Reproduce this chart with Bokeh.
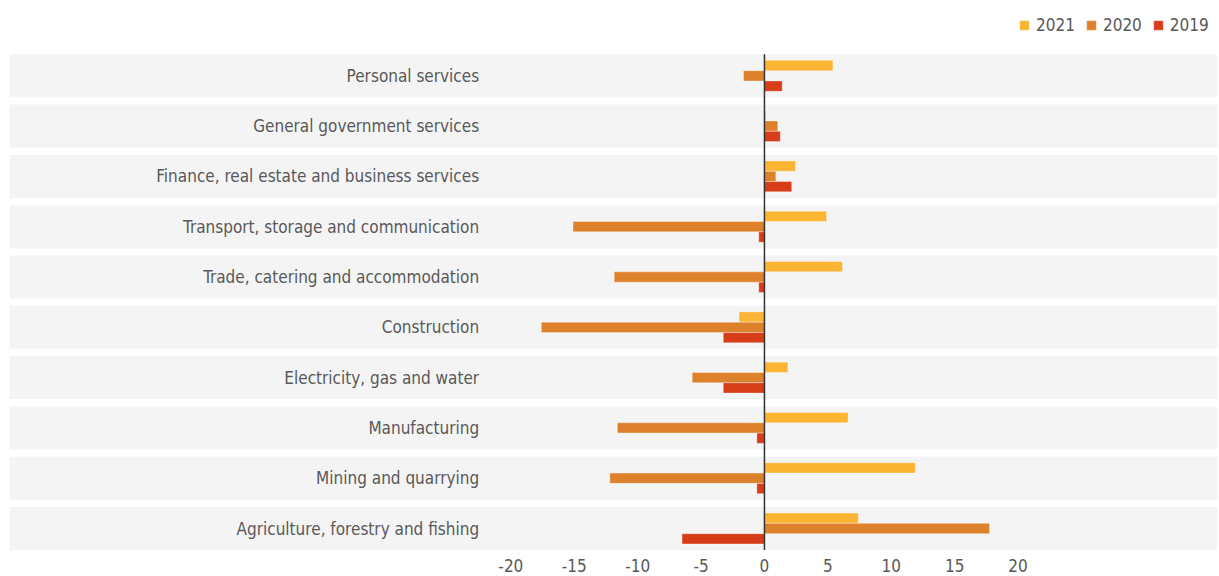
from bokeh.plotting import figure
from bokeh.models import (Range1d, FixedTicker, Legend, LegendItem, ColumnDataSource)
from bokeh.transform import dodge
from bokeh.embed import file_html
from bokeh.resources import INLINE

categories = [
    "Personal services",
    "General government services",
    "Finance, real estate and business services",
    "Transport, storage and communication",
    "Trade, catering and accommodation",
    "Construction",
    "Electricity, gas and water",
    "Manufacturing",
    "Mining and quarrying",
    "Agriculture, forestry and fishing",
]
years = ["2021", "2020", "2019"]
v2021 = [5.4, 0.1, 2.45, 4.9, 6.15, -2.0, 1.85, 6.6, 11.9, 7.4]
v2020 = [-1.65, 1.05, 0.9, -15.1, -11.85, -17.6, -5.7, -11.6, -12.2, 17.75]
v2019 = [1.4, 1.25, 2.15, -0.45, -0.45, -3.25, -3.25, -0.6, -0.6, -6.5]
x_ticks = [-20, -15, -10, -5, 0, 5, 10, 15, 20]

colors = {"2021": "#FBB533", "2020": "#DE812C", "2019": "#D73D19"}
FONT = "DejaVu Sans Condensed"
TXT = "#595959"

n = len(categories)
ypos = list(range(n - 1, -1, -1))   # top category first
band_h = 0.855
bar_h = 0.205

x_start, x_end = -59.54, 35.73
y_start, y_end = -0.477, 10.497

p = figure(width=1219, height=576,
           x_range=Range1d(x_start, x_end), y_range=Range1d(y_start, y_end),
           output_backend="svg", toolbar_location=None,
           min_border_left=9, min_border_right=2,
           min_border_top=0, min_border_bottom=24)

band_src = ColumnDataSource(dict(y=ypos, left=[x_start] * n, right=[x_end] * n))
p.hbar(y="y", left="left", right="right", height=band_h, source=band_src,
       fill_color="#F4F4F4", line_color=None)

src = ColumnDataSource(dict(y=ypos, y2021=v2021, y2020=v2020, y2019=v2019))
offsets = {"2021": bar_h, "2020": 0.0, "2019": -bar_h}
renderers = {}
for yr in years:
    r = p.hbar(y=dodge("y", offsets[yr]), left=0, right="y" + yr,
               height=bar_h, source=src, fill_color=colors[yr],
               line_color="white", line_alpha=0.35, line_width=1)
    renderers[yr] = r

p.segment(x0=[0], y0=[min(ypos) - band_h / 2], x1=[0], y1=[max(ypos) + band_h / 2],
          line_color="#333333", line_width=1.5)

legend = Legend(items=[LegendItem(label=yr, renderers=[renderers[yr]]) for yr in years],
                orientation="horizontal", location=(1009, 517),
                border_line_color=None, background_fill_alpha=0,
                margin=0, padding=0, spacing=10, glyph_width=12, glyph_height=12,
                label_standoff=6, label_text_font=FONT, label_text_font_size="17px",
                label_text_color=TXT, label_height=20)
p.add_layout(legend, "center")

p.xgrid.grid_line_color = None
p.ygrid.grid_line_color = None
p.outline_line_color = None

p.xaxis.ticker = FixedTicker(ticks=x_ticks)
p.xaxis.major_label_overrides = {t: str(t) for t in x_ticks}
p.xaxis.axis_line_color = None
p.xaxis.major_tick_line_color = None
p.xaxis.minor_tick_line_color = None
p.xaxis.major_tick_out = 0
p.xaxis.major_label_standoff = 6
p.xaxis.major_label_text_font = FONT
p.xaxis.major_label_text_font_size = "17px"
p.xaxis.major_label_text_color = TXT

p.yaxis.ticker = FixedTicker(ticks=ypos)
p.yaxis.major_label_overrides = {y: c for y, c in zip(ypos, categories)}
p.yaxis.fixed_location = -22.5
p.yaxis.axis_line_color = None
p.yaxis.major_tick_line_color = None
p.yaxis.minor_tick_line_color = None
p.yaxis.major_tick_out = 0
p.yaxis.major_label_standoff = 0
p.yaxis.major_label_text_font = FONT
p.yaxis.major_label_text_font_size = "17px"
p.yaxis.major_label_text_color = TXT

open("out.html", "w").write(file_html(p, INLINE))
